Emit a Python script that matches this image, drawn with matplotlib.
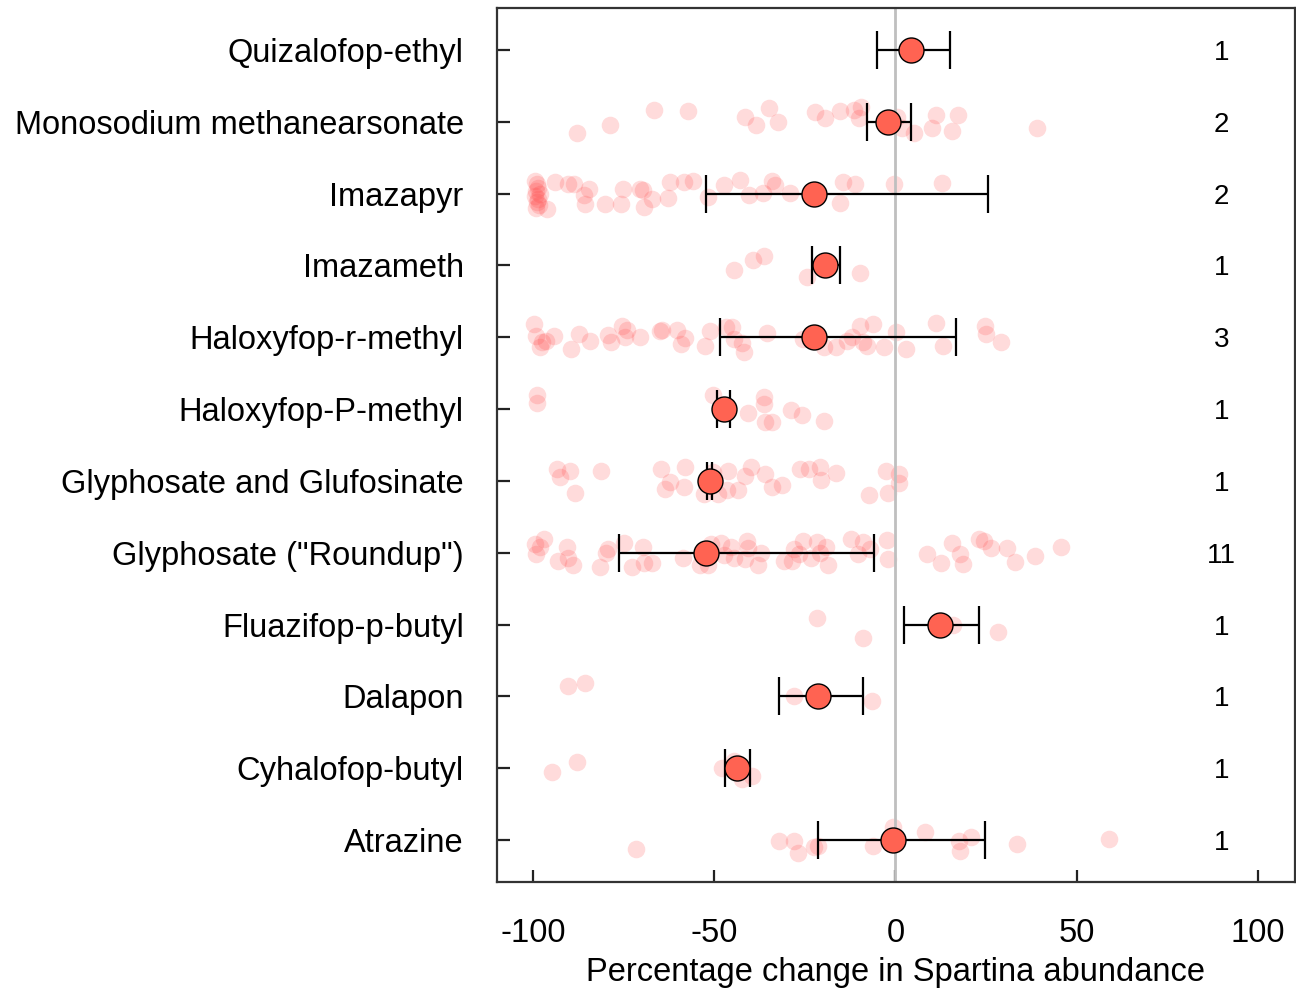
import numpy as np
import matplotlib
matplotlib.use("Agg")
import matplotlib.pyplot as plt

plt.rcParams['font.family'] = ['Liberation Sans', 'DejaVu Sans']
plt.rcParams['axes.unicode_minus'] = False

# herbicides, top to bottom
herbicides = ["Quizalofop-ethyl", "Monosodium methanearsonate", "Imazapyr", "Imazameth",
              "Haloxyfop-r-methyl", "Haloxyfop-P-methyl", "Glyphosate and Glufosinate",
              'Glyphosate ("Roundup")', "Fluazifop-p-butyl", "Dalapon", "Cyhalofop-butyl", "Atrazine"]
n_studies = [1, 2, 2, 1, 3, 1, 1, 11, 1, 1, 1, 1]
mean_change = [4.4, -2.2, -22.6, -19.4, -22.4, -47.4, -51.3, -52.4, 12.2, -21.5, -43.8, -0.6]
ci_low = [-5.2, -8.0, -52.2, -23.0, -48.4, -49.3, -52.0, -76.3, 2.4, -32.2, -47.0, -21.3]
ci_high = [15.1, 4.3, 25.4, -15.3, 16.6, -45.6, -50.6, -5.8, 23.1, -9.0, -40.3, 24.8]

# individual observations (x) and their vertical jitter (dy), same order
point_x = [
    [],
    [-87.9, -78.8, -66.6, -57.3, -41.5, -38.6, -34.9, -32.3, -22.1, -19.5, -15.4, -11.5, -9.4, -10.1,
     0.4, 1.8, 5.0, 10.0, 11.3, 15.5, 17.3, 39.0],
    [-99.5, -99.0, -98.6, -99.2, -98.2, -99.6, -98.8, -99.1, -98.4, -99.3,
     -96.1, -94.0, -90.3, -88.7, -86.1, -84.5, -85.8, -80.1, -75.9, -75.3, -70.6, -69.8, -69.3, -67.1,
     -62.9, -62.2, -58.5, -55.9, -51.7, -47.4, -42.8, -40.5, -36.6, -34.2, -33.4, -29.1, -14.5, -15.4,
     -11.1, -0.5, 12.9],
    [-44.5, -39.2, -36.3, -24.3, -9.7],
    [-99.8, -99.3, -98.2, -97.7, -96.6, -94.2, -89.6, -87.5, -84.3, -79.5, -78.4, -75.6, -74.8, -74.0,
     -70.6, -65.1, -64.5, -60.3, -59.2, -58.0, -52.7, -51.3, -46.9, -45.0, -44.7, -42.4, -41.9, -35.4,
     -25.5, -19.8, -16.3, -13.4, -11.9, -9.7, -8.9, -6.1, -7.8, -3.2, 0.1, 2.9, 11.1, 13.2, 24.8, 24.9, 29.0],
    [-99.0, -99.0, -50.3, -40.6, -36.3, -36.3, -36.1, -34.0, -28.9, -25.9, -19.8],
    [-93.5, -89.8, -92.7, -88.4, -81.2, -64.8, -58.0, -62.2, -63.7, -58.5, -52.9, -50.3, -48.9, -46.1,
     -46.6, -43.5, -41.6, -39.8, -36.1, -34.0, -31.3, -26.4, -24.0, -20.8, -20.5, -16.3, -7.4, -2.6,
     -2.2, 1.0, 1.0],
    [-99.5, -99.3, -96.9, -98.2, -93.3, -90.6, -90.3, -88.9, -81.6, -80.0, -79.5, -75.0, -72.7, -69.8,
     -69.3, -67.1, -58.7, -54.0, -51.7, -50.8, -48.2, -47.4, -45.4, -44.7, -41.6, -41.1, -40.8, -37.9,
     -37.1, -30.8, -28.7, -27.9, -25.5, -26.6, -23.2, -21.8, -19.2, -18.6, -20.8, -12.4, -10.3, -8.9,
     -7.1, -2.4, -2.2, 8.7, 12.6, 15.7, 17.8, 18.7, 23.1, 24.5, 26.3, 30.8, 32.9, 38.5, 45.8],
    [-21.8, -8.9, 16.0, 28.2],
    [-90.5, -85.8, -27.9, -6.6],
    [-94.9, -87.9, -47.9, -44.5, -42.4, -39.5],
    [-71.6, -32.2, -27.9, -26.9, -22.4, -21.5, -6.1, -0.8, 8.1, 17.6, 17.8, 20.8, 33.6, 58.9],
]
point_dy = [
    [],
    [-0.16, -0.05, 0.17, 0.15, 0.06, -0.05, 0.19, -0.01, 0.13, 0.05, 0.15, 0.16, 0.20, 0.05,
     0.07, -0.08, -0.15, -0.08, 0.09, -0.13, 0.09, -0.08],
    [0.18, 0.13, 0.08, 0.04, 0.0, -0.04, -0.08, -0.12, -0.16, -0.20,
     -0.21, 0.16, 0.13, 0.14, -0.02, 0.07, -0.15, -0.14, -0.15, 0.06, 0.07, 0.05, -0.19, -0.08,
     -0.06, 0.16, 0.16, 0.18, -0.05, 0.12, 0.19, -0.02, 0.01, 0.17, 0.12, 0.01, 0.16, -0.13,
     0.13, 0.13, 0.15],
    [-0.07, 0.07, 0.13, -0.16, -0.11],
    [0.19, 0.02, -0.14, -0.07, -0.05, 0.02, -0.17, 0.04, -0.05, 0.03, -0.07, 0.16, 0.0, 0.10,
     0.0, 0.09, 0.10, 0.10, -0.09, -0.01, -0.12, 0.09, 0.14, 0.14, -0.02, -0.08, -0.20, 0.06,
     -0.02, -0.14, -0.14, -0.05, 0.0, 0.16, -0.07, 0.18, -0.12, -0.14, 0.07, -0.16, 0.20, -0.12, 0.16, 0.05, -0.07],
    [0.20, 0.09, 0.20, -0.06, 0.17, 0.07, -0.18, -0.18, -0.01, -0.08, -0.17],
    [0.17, 0.14, 0.06, -0.17, 0.14, 0.16, 0.19, -0.01, -0.11, -0.09, -0.18, 0.12, -0.18, 0.14,
     -0.13, -0.13, 0.07, 0.20, 0.10, -0.09, -0.06, 0.16, 0.16, 0.20, 0.01, 0.11, -0.19, 0.14,
     -0.17, 0.09, -0.03],
    [0.12, -0.02, 0.19, 0.08, -0.12, 0.08, -0.07, -0.17, -0.20, -0.01, 0.05, 0.14, -0.20, 0.08,
     -0.14, -0.15, -0.07, -0.17, -0.17, 0.12, 0.14, -0.03, 0.08, -0.07, -0.09, 0.16, 0.07, -0.17,
     -0.01, -0.12, -0.12, 0.05, 0.16, -0.02, -0.07, 0.15, 0.08, -0.17, 0.0, 0.19, -0.02, 0.15,
     0.05, 0.17, -0.09, -0.02, -0.14, 0.14, -0.02, -0.16, 0.19, 0.16, 0.07, 0.07, -0.13, -0.05, 0.08],
    [0.09, -0.19, 0.0, -0.11],
    [0.14, 0.19, 0.0, -0.06],
    [-0.05, 0.08, 0.0, 0.10, -0.15, -0.11],
    [-0.13, -0.01, -0.02, -0.18, -0.10, -0.08, -0.08, 0.18, 0.11, -0.02, -0.16, 0.04, -0.06, 0.02],
]

fig = plt.figure(figsize=(12.96, 9.91), dpi=100)
ax = fig.add_axes([0.3835, 0.110, 0.6155, 0.882])

n = len(herbicides)
ypos = np.arange(n, 0, -1)

# raw observations
for i in range(n):
    if len(point_x[i]) == 0:
        continue
    ax.scatter(point_x[i], ypos[i] + np.array(point_dy[i]), s=160, color="#FF4040",
               alpha=0.19, linewidths=0, zorder=1)

ax.axvline(0, color="#BFBFBF", lw=2, zorder=2)

mean_arr = np.array(mean_change)
xerr = np.vstack([mean_arr - np.array(ci_low), np.array(ci_high) - mean_arr])
ax.errorbar(mean_arr, ypos, xerr=xerr, fmt="none", ecolor="black", elinewidth=1.6,
            capsize=14, capthick=1.6, zorder=3)
ax.plot(mean_arr, ypos, "o", ms=18, mfc="#FF6352", mec="black", mew=1.0, zorder=4)

for i in range(n):
    ax.text(90, ypos[i], str(n_studies[i]), ha="center", va="center_baseline", fontsize=20)

ax.set_xlim(-110, 110.2)
ax.set_ylim(0.415, 12.585)
ax.set_xticks([-100, -50, 0, 50, 100])
ax.set_yticks(ypos)
ax.set_yticklabels(herbicides)
ax.tick_params(axis="both", direction="in", length=9, width=1.6, labelsize=23.5, color="#222222")
ax.tick_params(axis="x", pad=26)
ax.tick_params(axis="y", pad=24)
for sp in ax.spines.values():
    sp.set_linewidth(1.6)
    sp.set_color("#333333")
ax.set_xlabel("Percentage change in Spartina abundance", fontsize=23.5, labelpad=6)

fig.savefig("out.png", dpi=100)
